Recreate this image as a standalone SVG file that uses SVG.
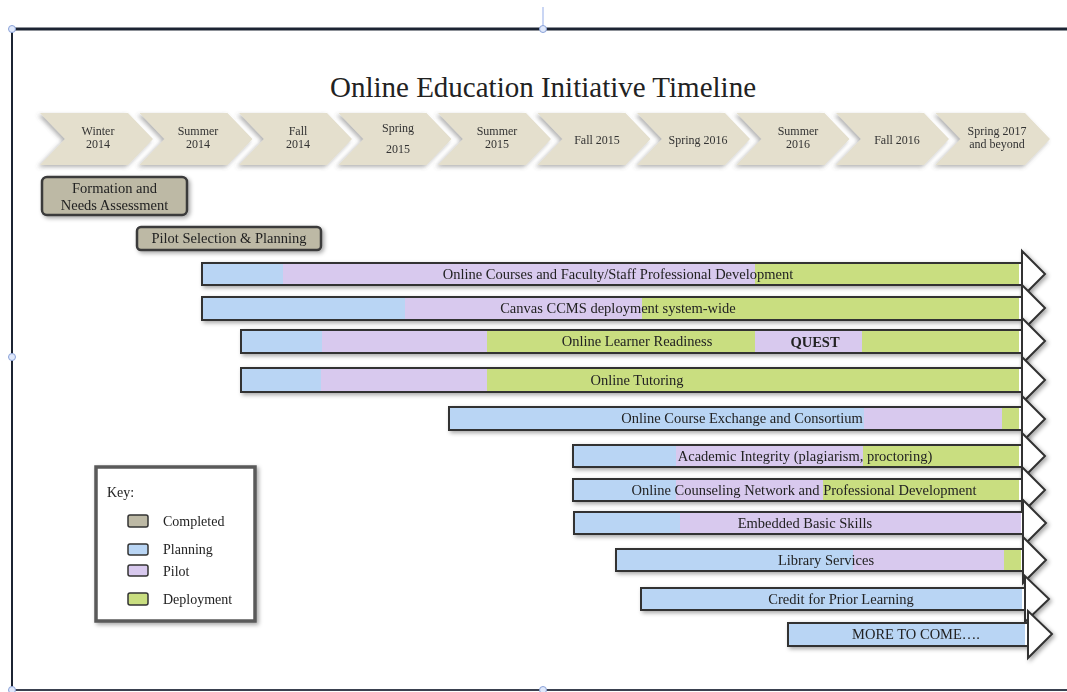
<svg xmlns="http://www.w3.org/2000/svg" width="1067" height="692" viewBox="0 0 1067 692">
<defs>
<filter id="sh" x="-10%" y="-30%" width="130%" height="180%">
<feDropShadow dx="2" dy="2" stdDeviation="2" flood-color="#000" flood-opacity="0.35"/>
</filter>
<filter id="shc" x="-10%" y="-20%" width="130%" height="160%">
<feDropShadow dx="-2" dy="2" stdDeviation="2" flood-color="#555" flood-opacity="0.45"/>
</filter>
<style>
.t{font-family:"Liberation Serif","Times New Roman",serif;fill:#222;}
.bar{font-size:14.5px;text-anchor:middle;}
.chev{fill:#e4dfcd;}
.ct{font-size:12px;text-anchor:middle;fill:#333;}
.arrow{fill:#fff;stroke:#333;stroke-width:2;}
.pl{fill:#b9d5f4;}
.pi{fill:#d8c9ee;}
.de{fill:#c9de80;}
.co{fill:#bdb9a5;}
.edge{fill:none;stroke:#333;stroke-width:2;}
.done{fill:#bdb9a5;stroke:#3a3a3a;stroke-width:2.5;}
.sw{stroke:#333;stroke-width:1.5;}
.kt{font-size:14px;}
.handle{fill:#dfe8fb;stroke:#8aa2d8;stroke-width:1;}
</style>
</defs>
<rect width="1067" height="692" fill="#fff"/>
<g id="frame">
<line x1="543" y1="7" x2="543" y2="29" stroke="#b9c8f0" stroke-width="1.5"/>
<line x1="12" y1="29" x2="1067" y2="29" stroke="#1c2433" stroke-width="3"/>
<line x1="12" y1="29" x2="12" y2="690" stroke="#1c2433" stroke-width="2"/>
<line x1="12" y1="690" x2="1067" y2="690" stroke="#3a4150" stroke-width="2"/>
<circle class="handle" cx="12" cy="29" r="3.5"/>
<circle class="handle" cx="543" cy="29" r="3.5"/>
<circle class="handle" cx="12" cy="357" r="3.5"/>
<circle class="handle" cx="12" cy="690" r="3.5"/>
<circle class="handle" cx="543" cy="690" r="3.5"/>
</g>
<g id="title"><text class="t" x="543" y="97" font-size="29" text-anchor="middle" fill="#111">Online Education Initiative Timeline</text></g>
<g id="chevrons" filter="url(#shc)">
<g id="c1"><polygon class="chev" points="40,113 128,113 153,139 128,165 40,165 65,139"/><text class="t ct" x="98" y="135">Winter</text><text class="t ct" x="98" y="148">2014</text></g>
<g id="c2"><polygon class="chev" points="139.5,113 227.5,113 252.5,139 227.5,165 139.5,165 164.5,139"/><text class="t ct" x="198" y="135">Summer</text><text class="t ct" x="198" y="148">2014</text></g>
<g id="c3"><polygon class="chev" points="239,113 327,113 352,139 327,165 239,165 264,139"/><text class="t ct" x="298" y="135">Fall</text><text class="t ct" x="298" y="148">2014</text></g>
<g id="c4"><polygon class="chev" points="338.5,113 426.5,113 451.5,139 426.5,165 338.5,165 363.5,139"/><text class="t ct" x="398" y="132">Spring</text><text class="t ct" x="398" y="153">2015</text></g>
<g id="c5"><polygon class="chev" points="438,113 526,113 551,139 526,165 438,165 463,139"/><text class="t ct" x="497" y="135">Summer</text><text class="t ct" x="497" y="148">2015</text></g>
<g id="c6"><polygon class="chev" points="537.5,113 625.5,113 650.5,139 625.5,165 537.5,165 562.5,139"/><text class="t ct" x="597" y="144">Fall 2015</text></g>
<g id="c7"><polygon class="chev" points="637,113 725,113 750,139 725,165 637,165 662,139"/><text class="t ct" x="698" y="144">Spring 2016</text></g>
<g id="c8"><polygon class="chev" points="736.5,113 824.5,113 849.5,139 824.5,165 736.5,165 761.5,139"/><text class="t ct" x="798" y="135">Summer</text><text class="t ct" x="798" y="148">2016</text></g>
<g id="c9"><polygon class="chev" points="836,113 924,113 949,139 924,165 836,165 861,139"/><text class="t ct" x="897" y="144">Fall 2016</text></g>
<g id="c10"><polygon class="chev" points="935.5,113 1025,113 1050,139 1025,165 935.5,165 960.5,139"/><text class="t ct" x="997" y="135">Spring 2017</text><text class="t ct" x="997" y="148">and beyond</text></g>
</g>
<g id="formation" filter="url(#sh)"><rect class="done" x="42" y="177" width="145" height="38" rx="5"/><text class="t" x="114.5" y="193" font-size="14.5" text-anchor="middle">Formation and</text><text class="t" x="114.5" y="210" font-size="14.5" text-anchor="middle">Needs Assessment</text></g>
<g id="pilot-selection" filter="url(#sh)"><rect class="done" x="137" y="227" width="184" height="23" rx="4"/><text class="t" x="229" y="243" font-size="14.5" text-anchor="middle">Pilot Selection &amp; Planning</text></g>
<g id="connectors"></g>
<g id="r1" filter="url(#sh)"><polygon class="arrow" points="202,263 1022,263 1022,251 1045,274 1022,297 1022,285 202,285"/><rect class="pl" x="203" y="264" width="80" height="20"/><rect class="pi" x="283" y="264" width="472" height="20"/><rect class="de" x="755" y="264" width="264" height="20"/><rect class="edge" x="202" y="263" width="820" height="22"/><text class="t bar" x="618" y="279">Online Courses and Faculty/Staff Professional Development</text></g>
<g id="r2" filter="url(#sh)"><polygon class="arrow" points="202,297 1022,297 1022,285 1045,308 1022,331 1022,320 202,320"/><rect class="pl" x="203" y="298" width="202" height="21"/><rect class="pi" x="405" y="298" width="237" height="21"/><rect class="de" x="642" y="298" width="377" height="21"/><rect class="edge" x="202" y="297" width="820" height="23"/><text class="t bar" x="618" y="313">Canvas CCMS deployment system-wide</text></g>
<g id="r3" filter="url(#sh)"><polygon class="arrow" points="241,330 1022,330 1022,318 1045,341 1022,364 1022,353 241,353"/><rect class="pl" x="242" y="331" width="80" height="21"/><rect class="pi" x="322" y="331" width="165" height="21"/><rect class="de" x="487" y="331" width="268" height="21"/><rect class="pi" x="755" y="331" width="107" height="21"/><rect class="de" x="862" y="331" width="157" height="21"/><rect class="edge" x="241" y="330" width="781" height="23"/><text class="t bar" x="637" y="346">Online Learner Readiness</text><text class="t bar" x="815" y="347" font-weight="bold">QUEST</text></g>
<g id="r4" filter="url(#sh)"><polygon class="arrow" points="241,368 1022,368 1022,357 1045,380 1022,403 1022,392 241,392"/><rect class="pl" x="242" y="369" width="79" height="22"/><rect class="pi" x="321" y="369" width="166" height="22"/><rect class="de" x="487" y="369" width="532" height="22"/><rect class="edge" x="241" y="368" width="781" height="24"/><text class="t bar" x="637" y="385">Online Tutoring</text></g>
<g id="r5" filter="url(#sh)"><polygon class="arrow" points="449,407 1022,407 1022,396 1045,419 1022,442 1022,430 449,430"/><rect class="pl" x="450" y="408" width="414" height="21"/><rect class="pi" x="864" y="408" width="138" height="21"/><rect class="de" x="1002" y="408" width="17" height="21"/><rect class="edge" x="449" y="407" width="573" height="23"/><text class="t bar" x="742" y="423">Online Course Exchange and Consortium</text></g>
<g id="r6" filter="url(#sh)"><polygon class="arrow" points="573,445 1022,445 1022,433 1045,456 1022,479 1022,467 573,467"/><rect class="pl" x="574" y="446" width="102" height="20"/><rect class="pi" x="676" y="446" width="187" height="20"/><rect class="de" x="863" y="446" width="156" height="20"/><rect class="edge" x="573" y="445" width="449" height="22"/><text class="t bar" x="805" y="461">Academic Integrity (plagiarism, proctoring)</text></g>
<g id="r7" filter="url(#sh)"><polygon class="arrow" points="573,479 1022,479 1022,467 1045,490 1022,513 1022,501 573,501"/><rect class="pl" x="574" y="480" width="102" height="20"/><rect class="pi" x="676" y="480" width="147" height="20"/><rect class="de" x="823" y="480" width="196" height="20"/><rect class="edge" x="573" y="479" width="449" height="22"/><text class="t bar" x="804" y="495">Online Counseling Network and Professional Development</text></g>
<g id="r8" filter="url(#sh)"><polygon class="arrow" points="574,512 1023,512 1023,500 1046,523 1023,546 1023,534 574,534"/><rect class="pl" x="575" y="513" width="105" height="20"/><rect class="pi" x="680" y="513" width="341" height="20"/><rect class="edge" x="574" y="512" width="449" height="22"/><text class="t bar" x="805" y="528">Embedded Basic Skills</text></g>
<g id="r9" filter="url(#sh)"><polygon class="arrow" points="616,549 1023,549 1023,537 1046,560 1023,583 1023,571 616,571"/><rect class="pl" x="617" y="550" width="236" height="20"/><rect class="pi" x="853" y="550" width="151" height="20"/><rect class="de" x="1004" y="550" width="17" height="20"/><rect class="edge" x="616" y="549" width="407" height="22"/><text class="t bar" x="826" y="565">Library Services</text></g>
<g id="r10" filter="url(#sh)"><polygon class="arrow" points="641,588 1025,588 1025,576 1049,599 1025,622 1025,610 641,610"/><rect class="pl" x="642" y="589" width="380" height="20"/><rect class="edge" x="641" y="588" width="384" height="22"/><text class="t bar" x="841" y="604">Credit for Prior Learning</text></g>
<g id="r11" filter="url(#sh)"><polygon class="arrow" points="788,623 1028,623 1028,611 1052,634 1028,658 1028,646 788,646"/><rect class="pl" x="789" y="624" width="236" height="21"/><rect class="edge" x="788" y="623" width="240" height="23"/><text class="t bar" x="916" y="639">MORE TO COME….</text></g>
<g id="key" filter="url(#sh)">
<rect x="96" y="467" width="159" height="154" fill="#fff" stroke="#5a5a5a" stroke-width="3.5"/>
<text class="t kt" x="107" y="497">Key:</text>
<rect class="co sw" x="128" y="515" width="20" height="12" rx="2"/><text class="t kt" x="163" y="526">Completed</text>
<rect class="pl sw" x="128" y="544" width="20" height="11" rx="2"/><text class="t kt" x="163" y="554">Planning</text>
<rect class="pi sw" x="128" y="565" width="20" height="11" rx="2"/><text class="t kt" x="163" y="576">Pilot</text>
<rect class="de sw" x="128" y="593" width="20" height="12" rx="2"/><text class="t kt" x="163" y="604">Deployment</text>
</g>
</svg>
